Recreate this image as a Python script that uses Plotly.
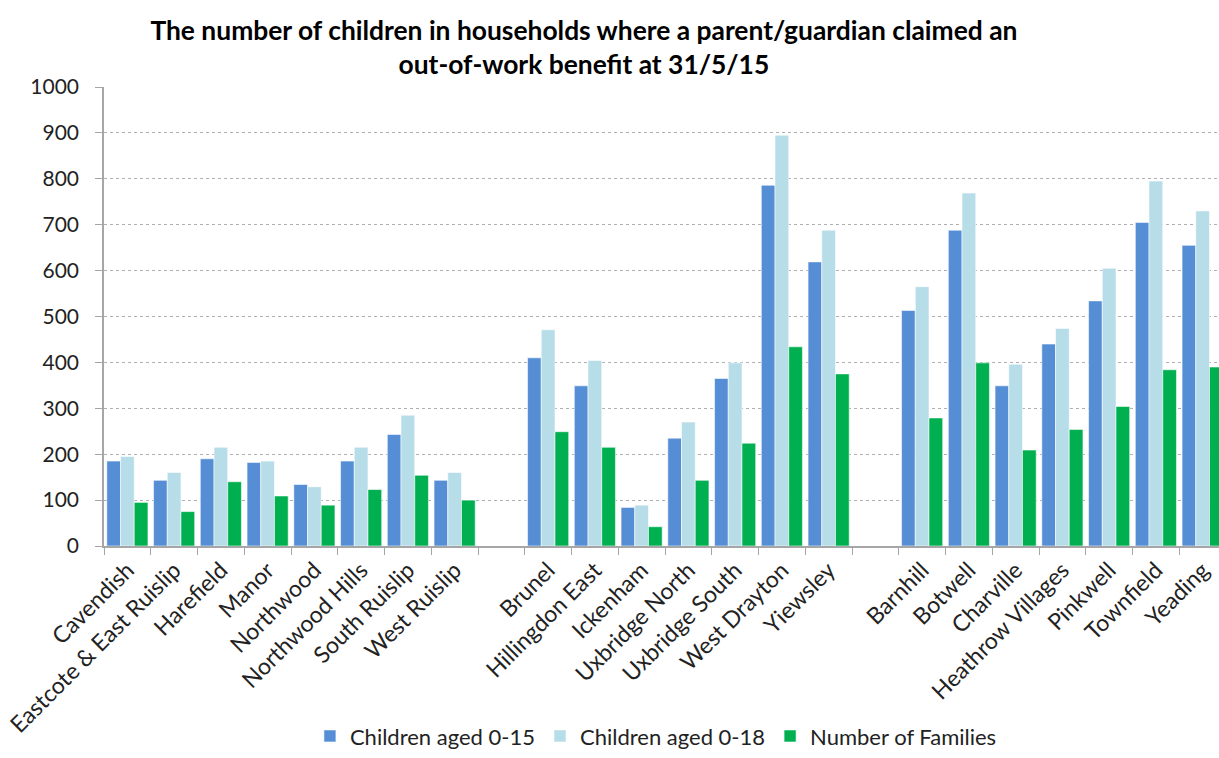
import plotly.graph_objects as go

# Wards grouped by area, blank entries leave the gaps between groups
wards = [
    "Cavendish", "Eastcote & East Ruislip", "Harefield", "Manor", "Northwood",
    "Northwood Hills", "South Ruislip", "West Ruislip", " ",
    "Brunel", "Hillingdon East", "Ickenham", "Uxbridge North", "Uxbridge South",
    "West Drayton", "Yiewsley", "  ",
    "Barnhill", "Botwell", "Charville", "Heathrow Villages", "Pinkwell",
    "Townfield", "Yeading",
]

aged_0_15 = [185, 143, 190, 182, 134, 185, 243, 143, None,
             410, 349, 84, 235, 365, 786, 619, None,
             513, 688, 349, 440, 534, 705, 655]
aged_0_18 = [195, 160, 215, 185, 129, 215, 285, 160, None,
             471, 404, 89, 270, 399, 895, 688, None,
             565, 769, 396, 474, 605, 795, 730]
families = [95, 75, 140, 109, 89, 123, 154, 100, None,
            249, 215, 42, 143, 224, 434, 375, None,
            279, 399, 209, 254, 304, 384, 390]

FONT = "Lato, 'Open Sans', sans-serif"
H = 758

fig = go.Figure()
for name, vals, col in [
    ("Children aged 0-15", aged_0_15, "#558ed5"),
    ("Children aged 0-18", aged_0_18, "#b7dde8"),
    ("Number of Families", families, "#00b050"),
]:
    fig.add_trace(go.Bar(
        x=wards, y=vals, name=name,
        marker=dict(color=col, line=dict(color="rgba(255,255,255,0.7)", width=0.8)),
    ))

fig.update_layout(
    width=1219, height=H,
    margin=dict(l=104, r=0, t=87, b=H - 546),
    paper_bgcolor="white", plot_bgcolor="white",
    font=dict(family=FONT, size=20, color="#222222"),
    title=dict(
        text="<b>The number of children in households where a parent/guardian claimed an<br>out-of-work benefit at 31/5/15</b>",
        x=0.479, xanchor="center", xref="container",
        y=1 - 40 / H, yanchor="middle", yref="container",
        font=dict(family=FONT, size=26.4, color="black"),
    ),
    barmode="group", bargap=0.12, bargroupgap=0,
    showlegend=True,
    legend=dict(orientation="h", x=0.495, xanchor="center", y=-0.46, yanchor="bottom",
                font=dict(size=22), traceorder="normal", itemwidth=30),
)
fig.update_xaxes(
    range=[-0.5, 23.35], tickangle=-45, tickson="boundaries",
    ticks="outside", ticklen=7, tickcolor="#a6a6a6",
    tickfont=dict(size=23),
    showline=True, linecolor="#a6a6a6", linewidth=1.5, showgrid=False,
    automargin=False,
)
fig.update_yaxes(
    range=[0, 1000], dtick=100, ticks="outside", ticklen=7, tickcolor="#a6a6a6",
    tickfont=dict(size=21), ticklabelstandoff=12,
    showline=True, linecolor="#a6a6a6", linewidth=1.5,
    showgrid=True, gridcolor="#b0b0b0", griddash="dot", gridwidth=1,
    zeroline=False, automargin=False,
)

page_css = (
    "document.documentElement.style.overflow='hidden';"
    "document.body.style.margin='0';"
    "document.body.style.overflow='hidden';"
)
fig.write_html("out.html", config={"displayModeBar": False}, post_script=page_css)
